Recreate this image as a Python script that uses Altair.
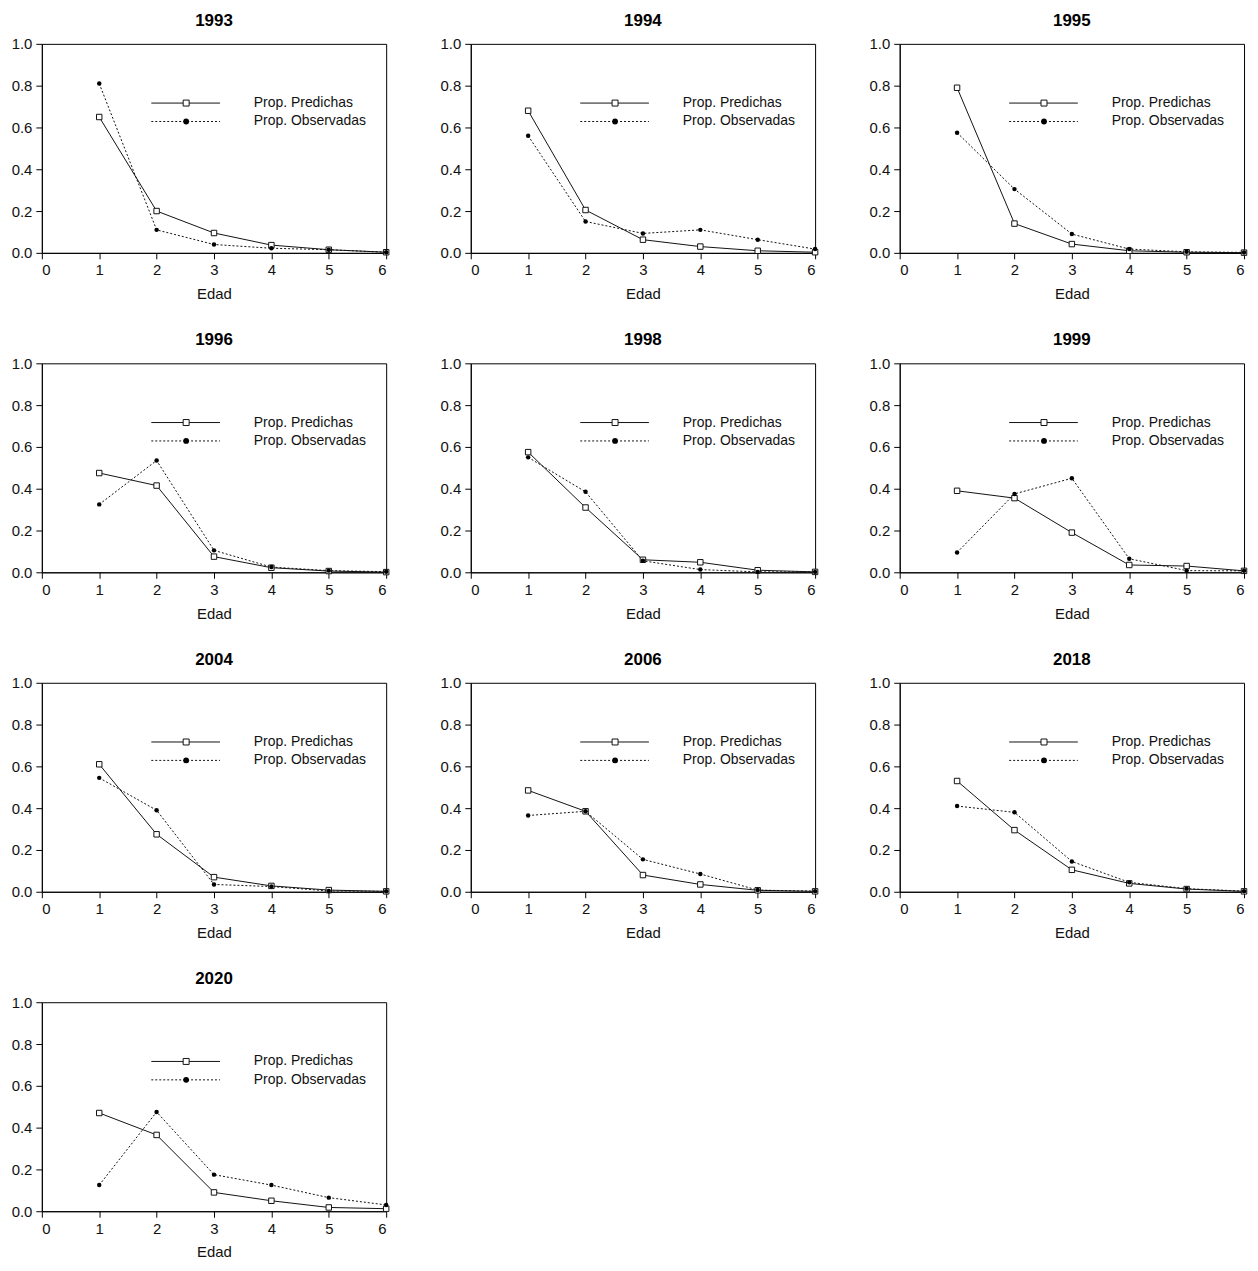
import altair as alt
import pandas as pd

# ---------------- data ----------------
years = ["1993", "1994", "1995", "1996", "1998", "1999", "2004", "2006", "2018", "2020"]
edad = [1, 2, 3, 4, 5, 6]
series = ["Prop. Predichas", "Prop. Observadas"]
x_ticks = [0, 1, 2, 3, 4, 5, 6]
y_ticks = [0.0, 0.2, 0.4, 0.6, 0.8, 1.0]

pred_1993 = [0.650, 0.200, 0.095, 0.037, 0.015, 0.003]
obs_1993 = [0.810, 0.110, 0.040, 0.022, 0.015, 0.003]
pred_1994 = [0.680, 0.205, 0.063, 0.030, 0.010, 0.003]
obs_1994 = [0.560, 0.150, 0.093, 0.110, 0.063, 0.018]
pred_1995 = [0.790, 0.140, 0.042, 0.010, 0.003, 0.001]
obs_1995 = [0.575, 0.305, 0.090, 0.018, 0.005, 0.002]
pred_1996 = [0.475, 0.415, 0.075, 0.022, 0.006, 0.001]
obs_1996 = [0.325, 0.535, 0.105, 0.025, 0.008, 0.003]
pred_1998 = [0.575, 0.310, 0.060, 0.048, 0.010, 0.002]
obs_1998 = [0.550, 0.385, 0.055, 0.013, 0.002, 0.002]
pred_1999 = [0.390, 0.355, 0.190, 0.035, 0.030, 0.007]
obs_1999 = [0.095, 0.375, 0.450, 0.065, 0.008, 0.007]
pred_2004 = [0.610, 0.275, 0.070, 0.028, 0.008, 0.002]
obs_2004 = [0.545, 0.390, 0.035, 0.025, 0.004, 0.002]
pred_2006 = [0.485, 0.385, 0.080, 0.035, 0.007, 0.002]
obs_2006 = [0.365, 0.385, 0.155, 0.085, 0.008, 0.003]
pred_2018 = [0.530, 0.295, 0.105, 0.040, 0.013, 0.002]
obs_2018 = [0.410, 0.380, 0.145, 0.045, 0.015, 0.003]
pred_2020 = [0.470, 0.365, 0.090, 0.050, 0.018, 0.012]
obs_2020 = [0.125, 0.475, 0.175, 0.125, 0.065, 0.030]

pred_by_year = dict(zip(years, [pred_1993, pred_1994, pred_1995, pred_1996, pred_1998,
                                pred_1999, pred_2004, pred_2006, pred_2018, pred_2020]))
obs_by_year = dict(zip(years, [obs_1993, obs_1994, obs_1995, obs_1996, obs_1998,
                               obs_1999, obs_2004, obs_2006, obs_2018, obs_2020]))

rows = []
for yr in years:
    for e, p in zip(edad, pred_by_year[yr]):
        rows.append({"year": yr, "edad": e, "prop": p, "serie": series[0]})
    for e, o in zip(edad, obs_by_year[yr]):
        rows.append({"year": yr, "edad": e, "prop": o, "serie": series[1]})
df = pd.DataFrame(rows)
legend_df = pd.DataFrame({"serie": series})

# ---------------- style ----------------
FONT = "Liberation Sans"
INK = "#111111"
W, H = 346, 210


def panel(year):
    d = df[df["year"] == year]
    x = alt.X("edad:Q",
              scale=alt.Scale(domain=[0, 6], nice=False, zero=False),
              axis=alt.Axis(values=x_ticks, format="d", title="Edad"))
    y = alt.Y("prop:Q",
              scale=alt.Scale(domain=[0, 1], nice=False),
              axis=alt.Axis(values=y_ticks, format=".1f", title=None))
    base = alt.Chart(d)
    pred_base = base.transform_filter(alt.datum.serie == series[0])
    obs_base = base.transform_filter(alt.datum.serie == series[1])

    line_p = pred_base.mark_line(color=INK, strokeWidth=1).encode(x=x, y=y)
    line_o = obs_base.mark_line(color=INK, strokeWidth=1, strokeDash=[2, 2]).encode(x=x, y=y)
    pts_p = pred_base.mark_point(shape="square", size=30, filled=True, fill="white",
                                 stroke=INK, strokeWidth=1, opacity=1).encode(x=x, y=y)
    pts_o = obs_base.mark_point(shape="circle", size=20, filled=True, color="black",
                                opacity=1).encode(x=x, y=y)

    # legend (guide drawn at fixed pixel positions inside the plot area)
    leg = alt.Chart(legend_df)
    leg_p = leg.transform_filter(alt.datum.serie == series[0])
    leg_o = leg.transform_filter(alt.datum.serie == series[1])
    y1, y2 = 59.5, 78
    lr_p = leg_p.mark_rule(color=INK, strokeWidth=1).encode(
        x=alt.value(110), x2=alt.value(179), y=alt.value(y1))
    lm_p = leg_p.mark_point(shape="square", size=36, filled=True, fill="white",
                            stroke=INK, strokeWidth=1, opacity=1).encode(
        x=alt.value(145), y=alt.value(y1))
    lt_p = leg_p.mark_text(align="left", baseline="middle", font=FONT, fontSize=14,
                           color=INK).encode(x=alt.value(213), y=alt.value(y1), text="serie:N")
    lr_o = leg_o.mark_rule(color=INK, strokeWidth=1, strokeDash=[2, 2]).encode(
        x=alt.value(110), x2=alt.value(179), y=alt.value(y2))
    lm_o = leg_o.mark_point(shape="circle", size=34, filled=True, color="black",
                            opacity=1).encode(x=alt.value(145), y=alt.value(y2))
    lt_o = leg_o.mark_text(align="left", baseline="middle", font=FONT, fontSize=14,
                           color=INK).encode(x=alt.value(213), y=alt.value(y2), text="serie:N")

    return alt.layer(line_p, line_o, pts_p, pts_o,
                     lr_p, lm_p, lt_p, lr_o, lm_o, lt_o).properties(
        width=W, height=H, title=year)


chart = alt.concat(*[panel(yr) for yr in years], columns=3,
                   spacing={"row": 28, "column": 47}).properties(
    padding={"left": 2, "top": 0, "right": 0, "bottom": 0},
    background="white",
).configure_view(
    stroke="black", strokeWidth=1
).configure_axis(
    grid=False,
    domainColor="black", domainWidth=1,
    tickColor="black", tickWidth=1, tickSize=6,
    labelFont=FONT, labelFontSize=15, labelColor=INK,
    titleFont=FONT, titleFontSize=15, titleColor=INK, titleFontWeight="normal",
    labelPadding=4, titlePadding=9,
).configure_axisX(
    labelAngle=0
).configure_title(
    font=FONT, fontSize=17, fontWeight="bold", color="black",
    anchor="middle", offset=7,
)

chart.save("out.html", embed_options={"renderer": "svg", "actions": False})
